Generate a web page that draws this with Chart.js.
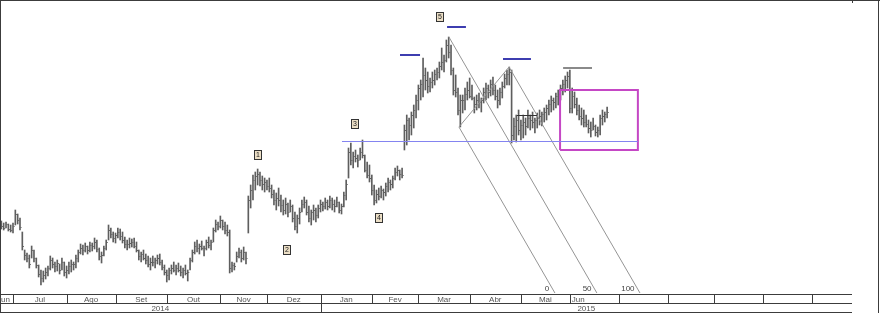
<!DOCTYPE html>
<html>
<head>
<meta charset="utf-8">
<script src="https://cdn.jsdelivr.net/npm/chart.js@4.4.1/dist/chart.umd.min.js"></script>
<style>
  html, body { margin: 0; padding: 0; background: #fff; }
  #wrap { position: relative; width: 880px; height: 313px; }
</style>
</head>
<body>
<div id="wrap"><canvas id="chart"></canvas></div>
<script>
// x = trading-day index, 1 Jul 2014 = 0
const FIRST_DAY = -5;

const highs = [
  17.9, 17.7, 17.8, 17.6, 17.5, 17.7, 19.0, 18.6, 18.2, 16.8,
  15.0, 14.7, 14.5, 15.4, 15.0, 14.2, 13.5, 13.0, 12.9, 13.2,
  13.4, 14.4, 14.2, 13.8, 14.0, 13.6, 14.2, 13.8, 13.4, 13.8,
  14.0, 13.8, 14.5, 15.0, 15.6, 15.5, 15.7, 15.4, 15.8, 15.7,
  16.2, 16.0, 15.2, 14.8, 15.4, 16.0, 17.5, 17.2, 16.8, 16.7,
  17.2, 17.1, 16.8, 16.3, 16.0, 16.2, 16.1, 16.2, 15.8, 15.0,
  14.8, 15.0, 14.6, 14.4, 14.2, 14.4, 14.2, 14.5, 14.6, 14.0,
  13.5, 13.0, 13.2, 13.5, 13.8, 13.5, 13.7, 13.4, 13.2, 13.5,
  13.0, 14.2, 15.0, 15.8, 16.0, 15.6, 15.9, 15.4, 16.0, 16.3,
  16.0, 17.2, 18.0, 17.8, 18.4, 18.0, 17.8, 17.5, 17.0, 13.8,
  13.7, 14.8, 15.2, 15.0, 15.3, 14.8, 20.4, 21.5, 22.5, 22.8,
  23.1, 22.8, 22.4, 22.2, 22.0, 22.2, 21.5, 21.0, 20.7, 21.2,
  20.5, 20.0, 20.2, 19.7, 20.0, 19.5, 18.8, 18.5, 19.2, 20.0,
  20.3, 20.0, 19.4, 19.0, 19.5, 19.2, 19.5, 20.0, 19.8, 20.2,
  20.0, 20.4, 20.2, 20.0, 20.3, 19.8, 19.6, 20.8, 22.0, 25.2,
  25.7, 24.8, 25.0, 24.5, 25.2, 26.0, 24.5, 23.8, 23.5, 22.5,
  21.5, 21.0, 21.2, 21.4, 21.1, 21.7, 22.2, 22.0, 22.4, 23.2,
  23.4, 23.0, 23.2, 27.5, 28.5, 28.2, 28.8, 29.5, 30.5, 31.5,
  32.0, 34.2, 33.2, 32.8, 32.2, 32.8, 33.0, 33.2, 33.8, 35.2,
  34.5, 36.0, 36.3, 35.5, 33.2, 32.5, 31.2, 30.5, 30.5, 31.2,
  31.8, 32.2, 31.5, 30.3, 30.5, 30.7, 30.2, 31.2, 31.7, 31.5,
  32.0, 32.3, 31.5, 31.0, 31.2, 31.8, 32.6, 33.0, 33.3, 33.0,
  28.2, 28.5, 29.0, 28.0, 28.5, 28.2, 29.0, 28.5, 28.8, 28.2,
  28.7, 29.0, 28.8, 29.2, 29.5, 30.0, 30.4, 30.2, 30.7, 31.0,
  31.5, 32.0, 32.4, 32.8, 33.0, 31.2, 30.8, 30.2, 29.5, 29.2,
  29.0, 28.5, 28.0, 27.8, 28.2, 27.5, 27.3, 28.5, 29.0, 28.8, 29.3,
];

const lows = [
  17.1, 17.0, 17.2, 16.9, 16.8, 16.7, 17.5, 17.6, 17.0, 15.0,
  14.0, 13.8, 13.2, 14.2, 13.8, 13.2, 12.3, 11.5, 11.8, 12.1,
  12.4, 13.0, 13.2, 12.8, 12.9, 12.6, 13.0, 12.4, 12.2, 12.6,
  12.8, 13.0, 13.2, 13.8, 14.6, 14.5, 14.8, 14.6, 14.8, 14.9,
  15.1, 14.8, 14.0, 13.7, 14.4, 15.0, 16.0, 16.2, 15.8, 15.7,
  16.2, 16.0, 15.7, 15.2, 15.0, 15.2, 15.3, 15.2, 14.8, 14.0,
  13.8, 14.0, 13.6, 13.3, 13.0, 13.4, 13.2, 13.6, 13.5, 13.0,
  12.5, 11.8, 12.0, 12.6, 12.8, 12.5, 12.8, 12.4, 12.2, 12.5,
  11.9, 13.0, 13.8, 14.6, 14.8, 14.6, 15.0, 14.4, 15.0, 15.2,
  15.0, 15.8, 16.8, 17.0, 17.2, 17.0, 16.6, 16.4, 12.7, 12.8,
  13.0, 13.8, 14.2, 13.8, 14.0, 13.6, 16.7, 19.2, 20.0, 21.0,
  21.5, 21.4, 21.0, 20.8, 21.0, 20.8, 20.2, 19.5, 19.0, 19.4,
  18.8, 18.5, 18.6, 18.3, 18.8, 17.8, 17.0, 16.7, 17.6, 18.8,
  19.2, 18.5, 17.8, 17.5, 18.0, 17.8, 18.2, 18.8, 18.9, 19.1,
  19.0, 19.2, 19.0, 18.8, 19.3, 18.7, 18.6, 19.3, 20.0, 22.2,
  23.5, 23.2, 23.8, 23.3, 24.0, 24.2, 22.8, 22.2, 21.8, 20.5,
  19.5, 19.7, 20.0, 20.2, 20.0, 20.4, 20.8, 21.0, 21.2, 22.0,
  22.4, 22.0, 22.2, 25.0, 25.5, 26.0, 26.5, 27.2, 28.2, 29.0,
  30.0, 30.3, 31.0, 30.7, 30.8, 31.2, 31.5, 32.0, 32.2, 33.0,
  32.8, 33.8, 34.2, 32.5, 30.5, 30.3, 28.5, 27.3, 28.7, 29.0,
  30.0, 30.2, 30.0, 28.7, 29.0, 29.2, 28.8, 29.7, 30.0, 30.2,
  30.4, 30.5, 30.0, 29.2, 29.5, 30.2, 31.2, 31.5, 31.5, 25.7,
  26.0, 25.8, 26.5, 26.0, 26.2, 26.5, 27.2, 27.0, 27.2, 26.7,
  27.2, 27.5, 27.4, 27.8, 28.0, 28.5, 28.8, 29.0, 29.2, 29.5,
  30.0, 30.5, 30.8, 31.2, 28.7, 28.7, 29.2, 28.5, 28.0, 27.5,
  27.3, 27.3, 26.7, 26.3, 27.0, 26.4, 26.3, 26.5, 27.5, 27.8, 28.2,
];

const closes = [
  17.4, 17.2, 17.6, 17.1, 17.0, 17.4, 18.6, 18.0, 17.3, 15.4,
  14.5, 14.2, 13.6, 15.0, 14.2, 13.5, 12.6, 12.2, 12.5, 12.8,
  13.2, 14.0, 13.6, 13.4, 13.7, 13.0, 13.8, 12.8, 13.0, 13.4,
  13.6, 13.6, 14.2, 14.8, 15.2, 15.0, 15.4, 15.0, 15.5, 15.4,
  15.8, 15.1, 14.4, 14.5, 15.2, 15.8, 17.0, 16.6, 16.2, 16.5,
  16.8, 16.4, 16.0, 15.6, 15.6, 15.7, 15.8, 15.4, 15.0, 14.4,
  14.6, 14.2, 14.0, 13.6, 13.8, 13.8, 14.0, 14.2, 13.8, 13.3,
  12.8, 12.5, 13.0, 13.2, 13.0, 13.2, 13.0, 12.8, 13.0, 12.7,
  12.8, 14.0, 14.8, 15.4, 15.2, 15.4, 15.2, 15.2, 15.8, 15.5,
  15.8, 17.0, 17.6, 17.4, 18.0, 17.4, 17.0, 16.8, 13.2, 13.5,
  13.4, 14.4, 14.8, 14.2, 14.8, 14.2, 20.0, 21.0, 22.0, 22.4,
  22.6, 22.0, 21.6, 21.8, 21.4, 21.2, 20.6, 20.0, 20.2, 20.0,
  19.5, 19.0, 19.6, 18.8, 19.4, 18.2, 17.4, 18.2, 18.8, 19.6,
  19.8, 18.8, 18.2, 18.8, 19.0, 18.5, 19.2, 19.6, 19.4, 19.8,
  19.4, 20.0, 19.6, 19.4, 19.8, 19.0, 19.4, 20.5, 21.6, 24.8,
  24.0, 24.4, 24.2, 24.0, 24.8, 24.5, 23.0, 22.5, 22.2, 21.0,
  20.0, 20.6, 20.4, 21.0, 20.8, 21.4, 21.8, 21.6, 22.2, 22.8,
  23.0, 22.6, 22.5, 27.0, 28.0, 27.5, 28.5, 29.0, 30.0, 31.2,
  31.6, 32.5, 32.0, 31.4, 31.8, 32.0, 32.6, 32.8, 33.4, 33.8,
  34.0, 35.5, 34.8, 33.0, 31.0, 30.8, 29.0, 30.0, 30.0, 30.6,
  31.0, 30.4, 30.2, 29.6, 30.0, 29.8, 30.0, 30.8, 31.2, 30.8,
  31.6, 31.0, 30.4, 30.0, 30.8, 31.4, 32.2, 32.6, 32.8, 26.5,
  27.4, 28.0, 27.0, 27.5, 27.8, 27.4, 28.2, 28.0, 27.8, 28.0,
  28.2, 28.4, 28.6, 28.8, 29.2, 29.6, 30.0, 29.8, 30.4, 30.6,
  31.2, 31.6, 32.0, 32.4, 29.2, 30.4, 29.6, 29.0, 28.4, 28.2,
  27.8, 27.6, 27.2, 27.0, 27.4, 26.8, 27.0, 28.2, 28.4, 28.6, 28.8,
];

// time axis: month starts (trading-day index), first cell is the tail of Jun 2014
const monthStarts = [0, 23, 44, 66, 89, 109, 132, 154, 174, 196, 218, 239, 260, 281, 301, 322, 343];
const monthNames = ["Jun", "Jul", "Ago", "Set", "Out", "Nov", "Dez", "Jan", "Fev", "Mar", "Abr", "Mai", "Jun", "", "", "", "", ""];
const yearStarts = [132];
const yearNames = ["2014", "2015"];

const X_MIN = -5.58;
const X_MAX = 360.1;
const Y_MIN = 10.7;
const Y_MAX = 40;

// drawings on the chart, in (day, price)
const supportLine = [[141.2, 25.85], [268.2, 25.85]];
const blueMarks = [[166.1, 174.7, 34.5], [186.3, 194.4, 37.3], [210.3, 222.3, 34.1]];
const grayMark = [236.1, 248.5, 33.2];
const blackMark = [216.3, 224.9, 28.45];
const fanStarts = [[191.4, 27.3], [187.1, 36.3], [212.9, 33.3]];
const fanEnds = [232.6, 250.6, 269.1];
const fanLabels = ["0", "50", "100"];
const fanLabelX = [229.2, 246.4, 263.9];
const targetBox = [234.8, 268.2, 25.0, 31.0];
const waveNames = ["1", "2", "3", "4", "5"];
const waveX = [105.2, 117.6, 146.8, 157.1, 183.3];
const waveY = [24.5, 15.0, 27.6, 18.2, 38.3];

const BAR_COLOR = "#5e5e5e";

function makeTick() {
  const c = document.createElement("canvas");
  c.width = 5;
  c.height = 1;
  const g = c.getContext("2d");
  g.fillStyle = BAR_COLOR;
  g.fillRect(3, 0, 1, 1);
  return c;
}

function segment(points, color, width, order = 0) {
  return {
    type: "line",
    data: points.map(([x, y]) => ({ x, y })),
    borderColor: color,
    borderWidth: width,
    pointRadius: 0,
    pointHoverRadius: 0,
    fill: false,
    tension: 0,
    order,
  };
}

const ranges = highs.map((h, i) => ({ x: FIRST_DAY + i, y: [lows[i], h] }));
const closePoints = closes.map((c, i) => ({ x: FIRST_DAY + i, y: c }));

const datasets = [
  {
    type: "bar",
    data: ranges,
    backgroundColor: BAR_COLOR,
    borderWidth: 0,
    barThickness: 1,
    order: 2,
  },
  {
    type: "line",
    data: closePoints,
    showLine: false,
    pointStyle: makeTick(),
    pointRadius: 1,
    pointHoverRadius: 1,
    order: 1,
  },
  segment(supportLine, "#8484f0", 1, -1),
];

blueMarks.forEach(([x0, x1, y]) => datasets.push(segment([[x0, y], [x1, y]], "#3d3db0", 2)));
datasets.push(segment([[grayMark[0], grayMark[2]], [grayMark[1], grayMark[2]]], "#8a8a8a", 2));
datasets.push(segment([[blackMark[0], blackMark[2]], [blackMark[1], blackMark[2]]], "#333", 1));
fanStarts.forEach(([x, y], i) => datasets.push(segment([[x, y], [fanEnds[i], Y_MIN]], "#959595", 1)));
datasets.push(segment([fanStarts[0], fanStarts[2]], "#959595", 1));
const [bx0, bx1, by0, by1] = targetBox;
datasets.push(segment([[bx0, by0], [bx1, by0], [bx1, by1], [bx0, by1], [bx0, by0]], "#c547c5", 2));

const frame = {
  id: "frame",
  afterDraw(chart) {
    const { ctx, chartArea: area, scales } = chart;
    const x = scales.x;
    const y = scales.y;
    const px = (v) => Math.round(x.getPixelForValue(v)) + 0.5;
    const rowTop = area.bottom + 1.5;
    const rowMid = area.bottom + 10.5;
    const rowBot = area.bottom + 19.5;
    const left = area.left;
    const right = area.right;

    ctx.save();
    ctx.strokeStyle = "#3c3c3c";
    ctx.lineWidth = 1;
    ctx.beginPath();
    [rowTop, rowMid, rowBot].forEach((yy) => {
      ctx.moveTo(left, yy);
      ctx.lineTo(right, yy);
    });
    monthStarts.forEach((m) => {
      ctx.moveTo(px(m), rowTop);
      ctx.lineTo(px(m), rowMid);
    });
    yearStarts.forEach((m) => {
      ctx.moveTo(px(m), rowMid);
      ctx.lineTo(px(m), rowBot);
    });
    // outer frame
    ctx.moveTo(0.5, 0);
    ctx.lineTo(0.5, chart.height);
    ctx.moveTo(0, 0.5);
    ctx.lineTo(chart.width, 0.5);
    ctx.moveTo(chart.width - 1.5, 0);
    ctx.lineTo(chart.width - 1.5, chart.height);
    ctx.moveTo(right + 0.5, 0);
    ctx.lineTo(right + 0.5, 3);
    ctx.stroke();

    ctx.font = '8px "Liberation Sans", Arial, sans-serif';
    ctx.fillStyle = "#555";
    ctx.textBaseline = "middle";
    ctx.textAlign = "center";
    const lastDay = FIRST_DAY + highs.length - 1;
    const edges = [X_MIN, ...monthStarts, X_MAX];
    monthNames.forEach((name, i) => {
      if (!name) return;
      const a = x.getPixelForValue(edges[i]);
      const b = x.getPixelForValue(edges[i + 1]);
      if (edges[i] <= lastDay && edges[i + 1] > lastDay) {
        ctx.textAlign = "left";
        ctx.fillText(name, a + 2, rowTop + 5);
        ctx.textAlign = "center";
      } else {
        ctx.fillText(name, (a + b) / 2 - (i === 0 ? 3 : 0), rowTop + 5);
      }
    });
    const yEdges = [X_MIN, ...yearStarts, X_MAX];
    yearNames.forEach((name, i) => {
      const a = x.getPixelForValue(yEdges[i]);
      const b = x.getPixelForValue(yEdges[i + 1]);
      ctx.fillText(name, (a + b) / 2, rowMid + 5);
    });

    ctx.fillStyle = "#444";
    fanLabels.forEach((t, i) => {
      ctx.fillText(t, x.getPixelForValue(fanLabelX[i]), y.getPixelForValue(Y_MIN) - 4);
    });

    waveNames.forEach((t, i) => {
      const cx = Math.round(x.getPixelForValue(waveX[i]));
      const cy = Math.round(y.getPixelForValue(waveY[i]));
      ctx.fillStyle = "#ecdfc6";
      ctx.fillRect(cx - 4, cy - 5, 8, 10);
      ctx.strokeStyle = "#333";
      ctx.strokeRect(cx - 3.5, cy - 4.5, 7, 9);
      ctx.fillStyle = "#222";
      ctx.font = '7px "Liberation Sans", Arial, sans-serif';
      ctx.fillText(t, cx, cy + 0.5);
    });
    ctx.restore();
  },
};

new Chart(document.getElementById("chart"), {
  type: "bar",
  data: { datasets },
  options: {
    responsive: true,
    maintainAspectRatio: false,
    animation: false,
    events: [],
    layout: { autoPadding: false, padding: { left: 0, right: 28, top: 0, bottom: 20 } },
    plugins: {
      legend: { display: false },
      tooltip: { enabled: false },
    },
    scales: {
      x: { type: "linear", min: X_MIN, max: X_MAX, offset: false, display: false },
      y: { type: "linear", min: Y_MIN, max: Y_MAX, display: false },
    },
  },
  plugins: [frame],
});
</script>
</body>
</html>
